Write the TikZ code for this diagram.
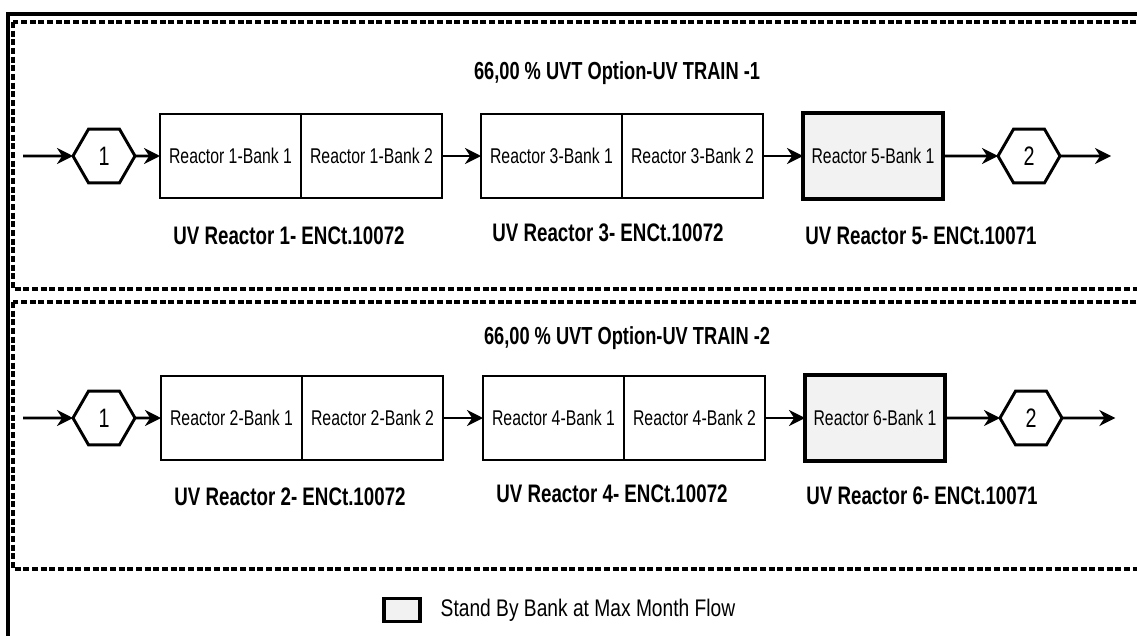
\documentclass[tikz,border=0pt]{standalone}
\usepackage{fontspec}
\setmainfont{Liberation Sans}
\newfontfamily\narrowsans[FakeStretch=0.74]{Liberation Sans}
\newfontfamily\keysans[FakeStretch=0.8]{Liberation Sans}
\usepackage{tikz}
\usetikzlibrary{arrows.meta,positioning,shapes.geometric}

\begin{document}
\begin{tikzpicture}[x=0.75pt,y=-0.75pt,
    bank/.style={rectangle, draw, line width=2.2pt, outer sep=0pt, inner sep=0pt, minimum width=105.75pt, minimum height=63pt, font=\narrowsans\fontsize{16}{18}\selectfont},
    standby/.style={bank, line width=2.8pt, fill=black!5, minimum width=105pt, minimum height=64.5pt},
    hexa/.style={regular polygon, regular polygon sides=6, draw, line width=2.2pt, outer sep=0pt, inner sep=0pt, minimum size=46.5pt, font=\narrowsans\fontsize{20}{22}\selectfont},
    arrow/.style={-{Stealth[length=12pt,width=12pt]}, line width=2pt},
    train/.style={draw, line width=2.3pt, dash pattern=on 4.5pt off 2pt},
    caption/.style={font=\narrowsans\bfseries\fontsize{19}{22}\selectfont},
]
    \clip (0,0) rectangle (1137,635);
    \fill[white] (0,0) rectangle (1137,635);

    % frames
    \draw[line width=2.4pt] (8,14) rectangle (1170,670);
    \draw[train] (13,22) rectangle (1170,289);
    \draw[train] (13,302) rectangle (1170,569);

    % train 1
    \node[caption, font=\narrowsans\bfseries\fontsize{18.5}{21}\selectfont] (title1) at (617,73) {66,00 \% UVT Option-UV TRAIN -1};
    \coordinate (src1) at (23,156);
    \node[hexa] (in1) at (104,156) {1};
    \node[bank, right=18.75pt of in1] (r1b1) {Reactor 1-Bank 1};
    \node[bank, right=0pt of r1b1] (r1b2) {Reactor 1-Bank 2};
    \node[bank, right=29.25pt of r1b2] (r3b1) {Reactor 3-Bank 1};
    \node[bank, right=0pt of r3b1] (r3b2) {Reactor 3-Bank 2};
    \node[standby, right=30pt of r3b2] (r5b1) {Reactor 5-Bank 1};
    \node[hexa, right=41.25pt of r5b1] (out1) {2};
    \coordinate[right=38.25pt of out1] (snk1);

    \draw[arrow] (src1) -- (in1);
    \draw[arrow] (in1) -- (r1b1);
    \draw[arrow] (r1b2) -- (r3b1);
    \draw[arrow] (r3b2) -- (r5b1);
    \draw[arrow] (r5b1) -- (out1);
    \draw[arrow] (out1) -- (snk1);

    \node[caption] (lab1) at (289,236) {UV Reactor 1- ENCt.10072};
    \node[caption] (lab3) at (608,233) {UV Reactor 3- ENCt.10072};
    \node[caption] (lab5) at (921,236) {UV Reactor 5- ENCt.10071};

    % train 2
    \node[caption, font=\narrowsans\bfseries\fontsize{18.5}{21}\selectfont] (title2) at (627,338) {66,00 \% UVT Option-UV TRAIN -2};
    \coordinate (src2) at (23,418);
    \node[hexa] (in2) at (104,418) {1};
    \node[bank, right=19.5pt of in2] (r2b1) {Reactor 2-Bank 1};
    \node[bank, right=0pt of r2b1] (r2b2) {Reactor 2-Bank 2};
    \node[bank, right=30pt of r2b2] (r4b1) {Reactor 4-Bank 1};
    \node[bank, right=0pt of r4b1] (r4b2) {Reactor 4-Bank 2};
    \node[standby, right=30pt of r4b2] (r6b1) {Reactor 6-Bank 1};
    \node[hexa, right=41.25pt of r6b1] (out2) {2};
    \coordinate[right=40pt of out2] (snk2);

    \draw[arrow] (src2) -- (in2);
    \draw[arrow] (in2) -- (r2b1);
    \draw[arrow] (r2b2) -- (r4b1);
    \draw[arrow] (r4b2) -- (r6b1);
    \draw[arrow] (r6b1) -- (out2);
    \draw[arrow] (out2) -- (snk2);

    \node[caption] (lab2) at (290,497) {UV Reactor 2- ENCt.10072};
    \node[caption] (lab4) at (612,494) {UV Reactor 4- ENCt.10072};
    \node[caption] (lab6) at (922,496) {UV Reactor 6- ENCt.10071};

    % legend
    \node[standby, minimum width=27pt, minimum height=17.25pt] (key) at (402,610) {};
    \node[font=\keysans\fontsize{18}{20}\selectfont, anchor=west, right=12pt of key] (keytext) {Stand By Bank at Max Month Flow};
\end{tikzpicture}
\end{document}
